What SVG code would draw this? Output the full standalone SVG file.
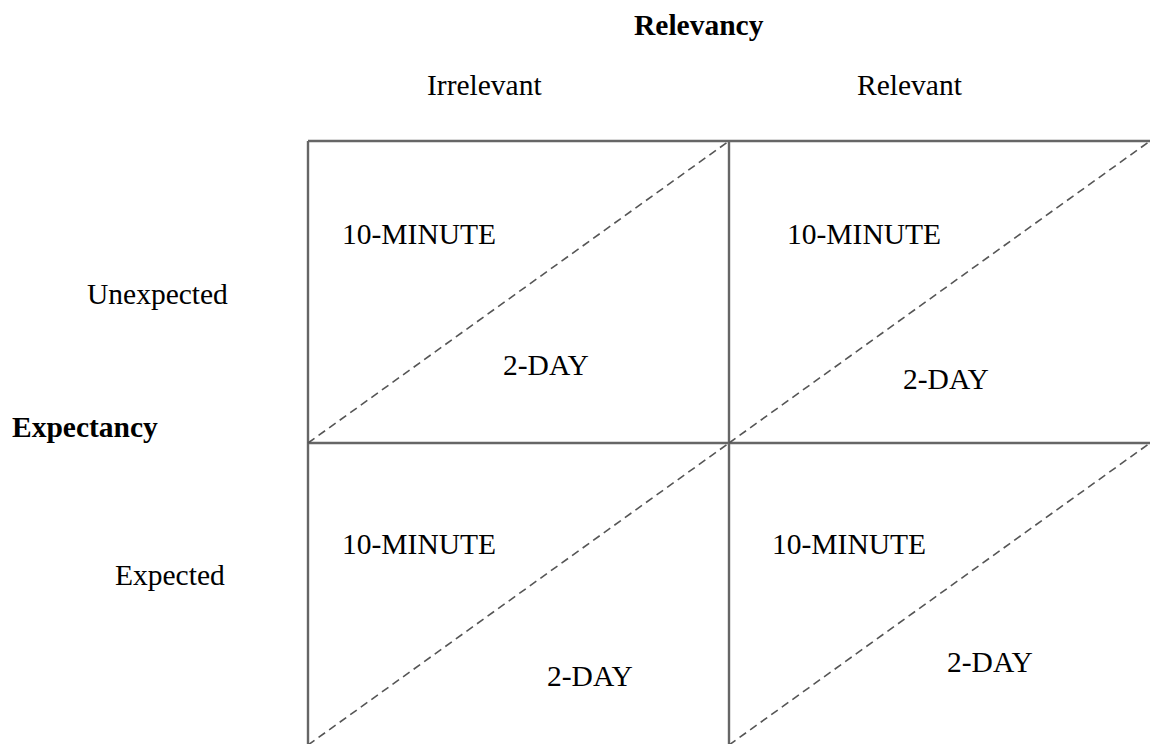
<svg xmlns="http://www.w3.org/2000/svg" width="1150" height="744" viewBox="0 0 1150 744">
<style>
text{font-family:"Liberation Serif","Times New Roman",serif;font-size:29.5px;fill:#000}
.b{font-weight:bold}
.grid{stroke:#666;stroke-width:2.4;fill:none}
.diag{stroke:#555;stroke-width:1.6;stroke-dasharray:8,5;fill:none}
</style>
<rect width="1150" height="744" fill="#fff"/>
<g id="headers">
<text class="b" x="634" y="35">Relevancy</text>
<text x="427" y="95">Irrelevant</text>
<text x="857" y="95">Relevant</text>
<text x="87" y="304">Unexpected</text>
<text class="b" x="12" y="437">Expectancy</text>
<text x="115" y="585">Expected</text>
</g>
<g id="connectors">
<path class="grid" d="M308,141 H1150 M308,443 H1150 M308,141 V744 M729,141 V744"/>
<path class="diag" d="M308,443 L729,141 M729,443 L1150,141 M308,745 L729,443 M729,745 L1150,443"/>
</g>
<g id="cell-unexpected-irrelevant">
<text x="342" y="244">10-MINUTE</text>
<text x="503" y="375">2-DAY</text>
</g>
<g id="cell-unexpected-relevant">
<text x="787" y="244">10-MINUTE</text>
<text x="903" y="389">2-DAY</text>
</g>
<g id="cell-expected-irrelevant">
<text x="342" y="554">10-MINUTE</text>
<text x="547" y="686">2-DAY</text>
</g>
<g id="cell-expected-relevant">
<text x="772" y="554">10-MINUTE</text>
<text x="947" y="672">2-DAY</text>
</g>
</svg>
